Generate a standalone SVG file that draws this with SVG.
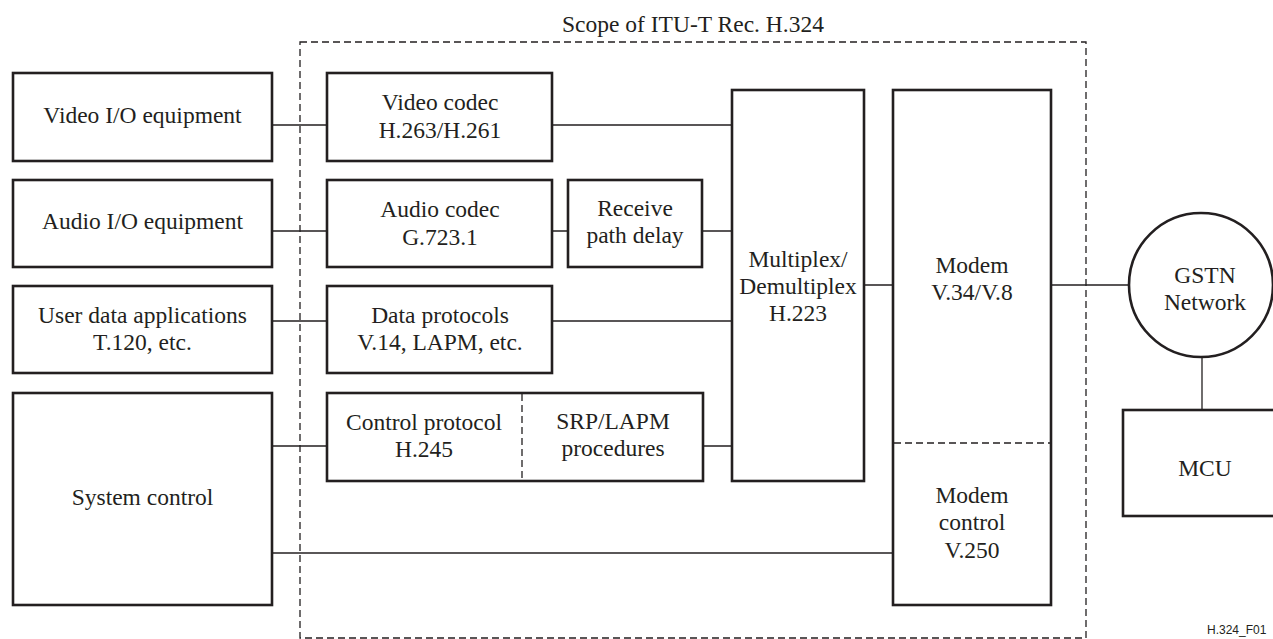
<svg xmlns="http://www.w3.org/2000/svg" width="1273" height="639" viewBox="0 0 1273 639">
<style>
.box{fill:#fff;stroke:#231f20;stroke-width:2.6}
.ln{stroke:#231f20;stroke-width:1.3;fill:none}
.dash{stroke:#231f20;stroke-width:1.3;fill:none;stroke-dasharray:7 4}
text{font-family:"Liberation Serif","Times New Roman",serif;font-size:23.5px;fill:#231f20;text-anchor:middle}
.small{font-family:"Liberation Sans",Arial,sans-serif;font-size:12px;text-anchor:start}
</style>
<rect width="1273" height="639" fill="#fff"/>
<g id="scope">
<rect class="dash" x="300" y="42" width="786" height="596"/>
<text x="693" y="32">Scope of ITU-T Rec. H.324</text>
</g>
<g id="connectors">
<path class="ln" d="M273 125H327M553 125H732"/>
<path class="ln" d="M273 231H327M553 231H568M703 231H732"/>
<path class="ln" d="M273 321H327M553 321H732"/>
<path class="ln" d="M273 446H327M704 446H732"/>
<path class="ln" d="M273 553H893"/>
<path class="ln" d="M865 285H893M1052 285H1129"/>
<path class="ln" d="M1202 357V410"/>
</g>
<g id="video-io"><rect class="box" x="13" y="73" width="259" height="88"/><text x="142.5" y="122.5">Video I/O equipment</text></g>
<g id="audio-io"><rect class="box" x="13" y="180" width="259" height="87"/><text x="142.5" y="229">Audio I/O equipment</text></g>
<g id="user-data"><rect class="box" x="13" y="286" width="259" height="87"/><text x="142.5" y="323">User data applications</text><text x="142.5" y="350">T.120, etc.</text></g>
<g id="system-control"><rect class="box" x="13" y="393" width="259" height="212"/><text x="142.5" y="505">System control</text></g>
<g id="video-codec"><rect class="box" x="327" y="73" width="225" height="88"/><text x="440" y="110">Video codec</text><text x="440" y="138">H.263/H.261</text></g>
<g id="audio-codec"><rect class="box" x="327" y="180" width="225" height="87"/><text x="440" y="217">Audio codec</text><text x="440" y="245">G.723.1</text></g>
<g id="receive-delay"><rect class="box" x="568" y="180" width="134" height="87"/><text x="635" y="216">Receive</text><text x="635" y="243">path delay</text></g>
<g id="data-protocols"><rect class="box" x="327" y="286" width="225" height="87"/><text x="440" y="323">Data protocols</text><text x="440" y="350">V.14, LAPM, etc.</text></g>
<g id="control-protocol"><rect class="box" x="327" y="393" width="376" height="88"/><path class="dash" d="M522 394V480" stroke-dasharray="6 4"/><text x="424" y="430">Control protocol</text><text x="424" y="457">H.245</text><text x="613" y="429">SRP/LAPM</text><text x="613" y="456">procedures</text></g>
<g id="multiplex"><rect class="box" x="732" y="90" width="132" height="391"/><text x="798" y="267">Multiplex/</text><text x="798" y="294">Demultiplex</text><text x="798" y="321">H.223</text></g>
<g id="modem"><rect class="box" x="893" y="90" width="158" height="515"/><path class="dash" d="M894 443H1050"/><text x="972" y="273">Modem</text><text x="972" y="300">V.34/V.8</text><text x="972" y="503">Modem</text><text x="972" y="530">control</text><text x="972" y="558">V.250</text></g>
<g id="gstn"><circle class="box" cx="1201" cy="285" r="72"/><text x="1205" y="283">GSTN</text><text x="1205" y="310">Network</text></g>
<g id="mcu"><rect class="box" x="1123" y="410" width="170" height="106"/><text x="1205" y="476">MCU</text></g>
<text class="small" x="1207" y="634">H.324_F01</text>
</svg>
